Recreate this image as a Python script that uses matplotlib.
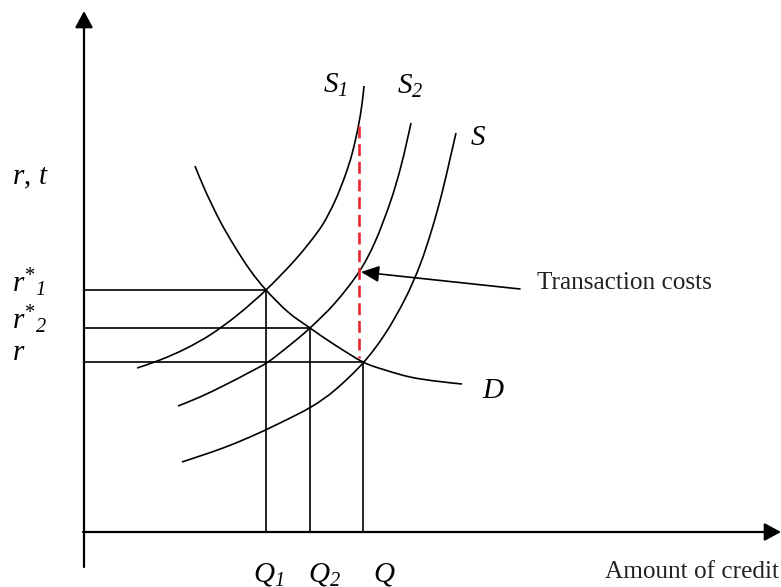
import matplotlib.pyplot as plt
import numpy as np
from matplotlib.path import Path
from matplotlib.patches import PathPatch

plt.rcParams['mathtext.fontset'] = 'custom'
plt.rcParams['mathtext.it'] = 'Liberation Serif:italic'
plt.rcParams['mathtext.rm'] = 'Liberation Serif'
plt.rcParams['mathtext.sf'] = 'Liberation Serif:italic'  # italic digits for subscripts

# curves (pixel space, y down)
s1_x = [137, 160, 185, 210, 235, 255, 266, 280, 295, 310, 323, 335, 345, 352, 358, 362, 364]
s1_y = [368, 360, 349, 335, 317, 300, 290, 276, 260, 242, 224, 201, 176, 154, 128, 104, 86]
s2_x = [178, 200, 225, 250, 268, 290, 310, 335, 359, 375, 390, 400, 407, 411]
s2_y = [406, 397, 385, 372, 362, 345, 328, 303, 272, 242, 203, 170, 141, 123]
s_x = [182, 200, 223, 250, 280, 311, 335, 363, 385, 405, 420, 432, 442, 450, 456]
s_y = [462, 456, 448, 437, 423, 407, 390, 363, 334, 299, 265, 229, 193, 159, 133]
d_x = [195, 205, 220, 235, 250, 266, 288, 310, 335, 363, 385, 410, 435, 462]
d_y = [166, 190, 221, 247, 270, 290, 312, 328, 345, 362, 370, 377, 381, 384]

# equilibria (Q, r)
eq_q = [266, 310, 363]
eq_r = [290, 328, 362]
y_labels = ['$r^{*}{}_{\\mathsf{1}}$', '$r^{*}{}_{\\mathsf{2}}$', '$r$']
y_label_pos = [283, 320, 352]
q_labels = ['$Q_{\\mathsf{1}}$', '$Q_{\\mathsf{2}}$', '$Q$']
q_label_x = [253, 308, 373]


def smooth_path(xs, ys):
    # Catmull-Rom through the read points, drawn as cubic Beziers
    p = np.column_stack([xs, ys]).astype(float)
    verts = [p[0]]
    codes = [Path.MOVETO]
    n = len(p)
    for i in range(n - 1):
        p0 = p[i - 1] if i > 0 else p[i]
        p3 = p[i + 2] if i + 2 < n else p[i + 1]
        c1 = p[i] + (p[i + 1] - p0) / 6
        c2 = p[i + 1] - (p3 - p[i]) / 6
        verts += [c1, c2, p[i + 1]]
        codes += [Path.CURVE4] * 3
    return Path(verts, codes)


fig = plt.figure(figsize=(7.81, 5.87), dpi=100)
ax = fig.add_axes([0, 0, 1, 1])
ax.set_xlim(0, 781)
ax.set_ylim(587, 0)
ax.axis('off')

lw = 1.2
for xs, ys in [(s1_x, s1_y), (s2_x, s2_y), (s_x, s_y), (d_x, d_y)]:
    ax.add_patch(PathPatch(smooth_path(xs, ys), fill=False, edgecolor='black',
                           lw=lw, capstyle='butt'))

# axes with arrows
ax.annotate('', xy=(84, 11), xytext=(84, 567),
            arrowprops=dict(arrowstyle='-|>,head_length=0.5,head_width=0.27',
                            mutation_scale=20, lw=1.6, color='black', shrinkA=0, shrinkB=0))
ax.annotate('', xy=(781, 532), xytext=(83, 532),
            arrowprops=dict(arrowstyle='-|>,head_length=0.5,head_width=0.27',
                            mutation_scale=20, lw=1.6, color='black', shrinkA=0, shrinkB=0))

# guide lines
for q, r in zip(eq_q, eq_r):
    ax.plot([84, q], [r, r], color='black', lw=lw)
    ax.plot([q, q], [r, 532], color='black', lw=lw)

# transaction cost gap
ax.plot([359, 359], [126, 358], color='#e8262d', lw=1.9, dashes=(4.5, 2.2))
ax.annotate('', xy=(361, 272), xytext=(520, 289),
            arrowprops=dict(arrowstyle='-|>,head_length=0.55,head_width=0.25',
                            mutation_scale=20, lw=1.2, color='black', shrinkA=0, shrinkB=0))

fs = 21
for lab, y in zip(y_labels, y_label_pos):
    ax.text(12, y, lab, fontsize=fs, va='center', ha='left')
ax.text(12, 177, '$r,\\,t$', fontsize=fs, va='center', ha='left')
for lab, x in zip(q_labels, q_label_x):
    ax.text(x, 574, lab, fontsize=fs, va='center', ha='left')
ax.text(323, 85, '$S_{\\mathsf{1}}$', fontsize=fs, va='center', ha='left')
ax.text(397, 86, '$S_{\\mathsf{2}}$', fontsize=fs, va='center', ha='left')
ax.text(470, 137, '$S$', fontsize=fs, va='center', ha='left')
ax.text(482, 390, '$D$', fontsize=fs, va='center', ha='left')

ax.text(537, 283, 'Transaction costs', fontsize=18.2, family='Liberation Serif',
        va='center', ha='left', color='#222222')
ax.text(605, 572, 'Amount of credit', fontsize=18.2, family='Liberation Serif',
        va='center', ha='left', color='#222222')

fig.savefig('out.png', dpi=100)
